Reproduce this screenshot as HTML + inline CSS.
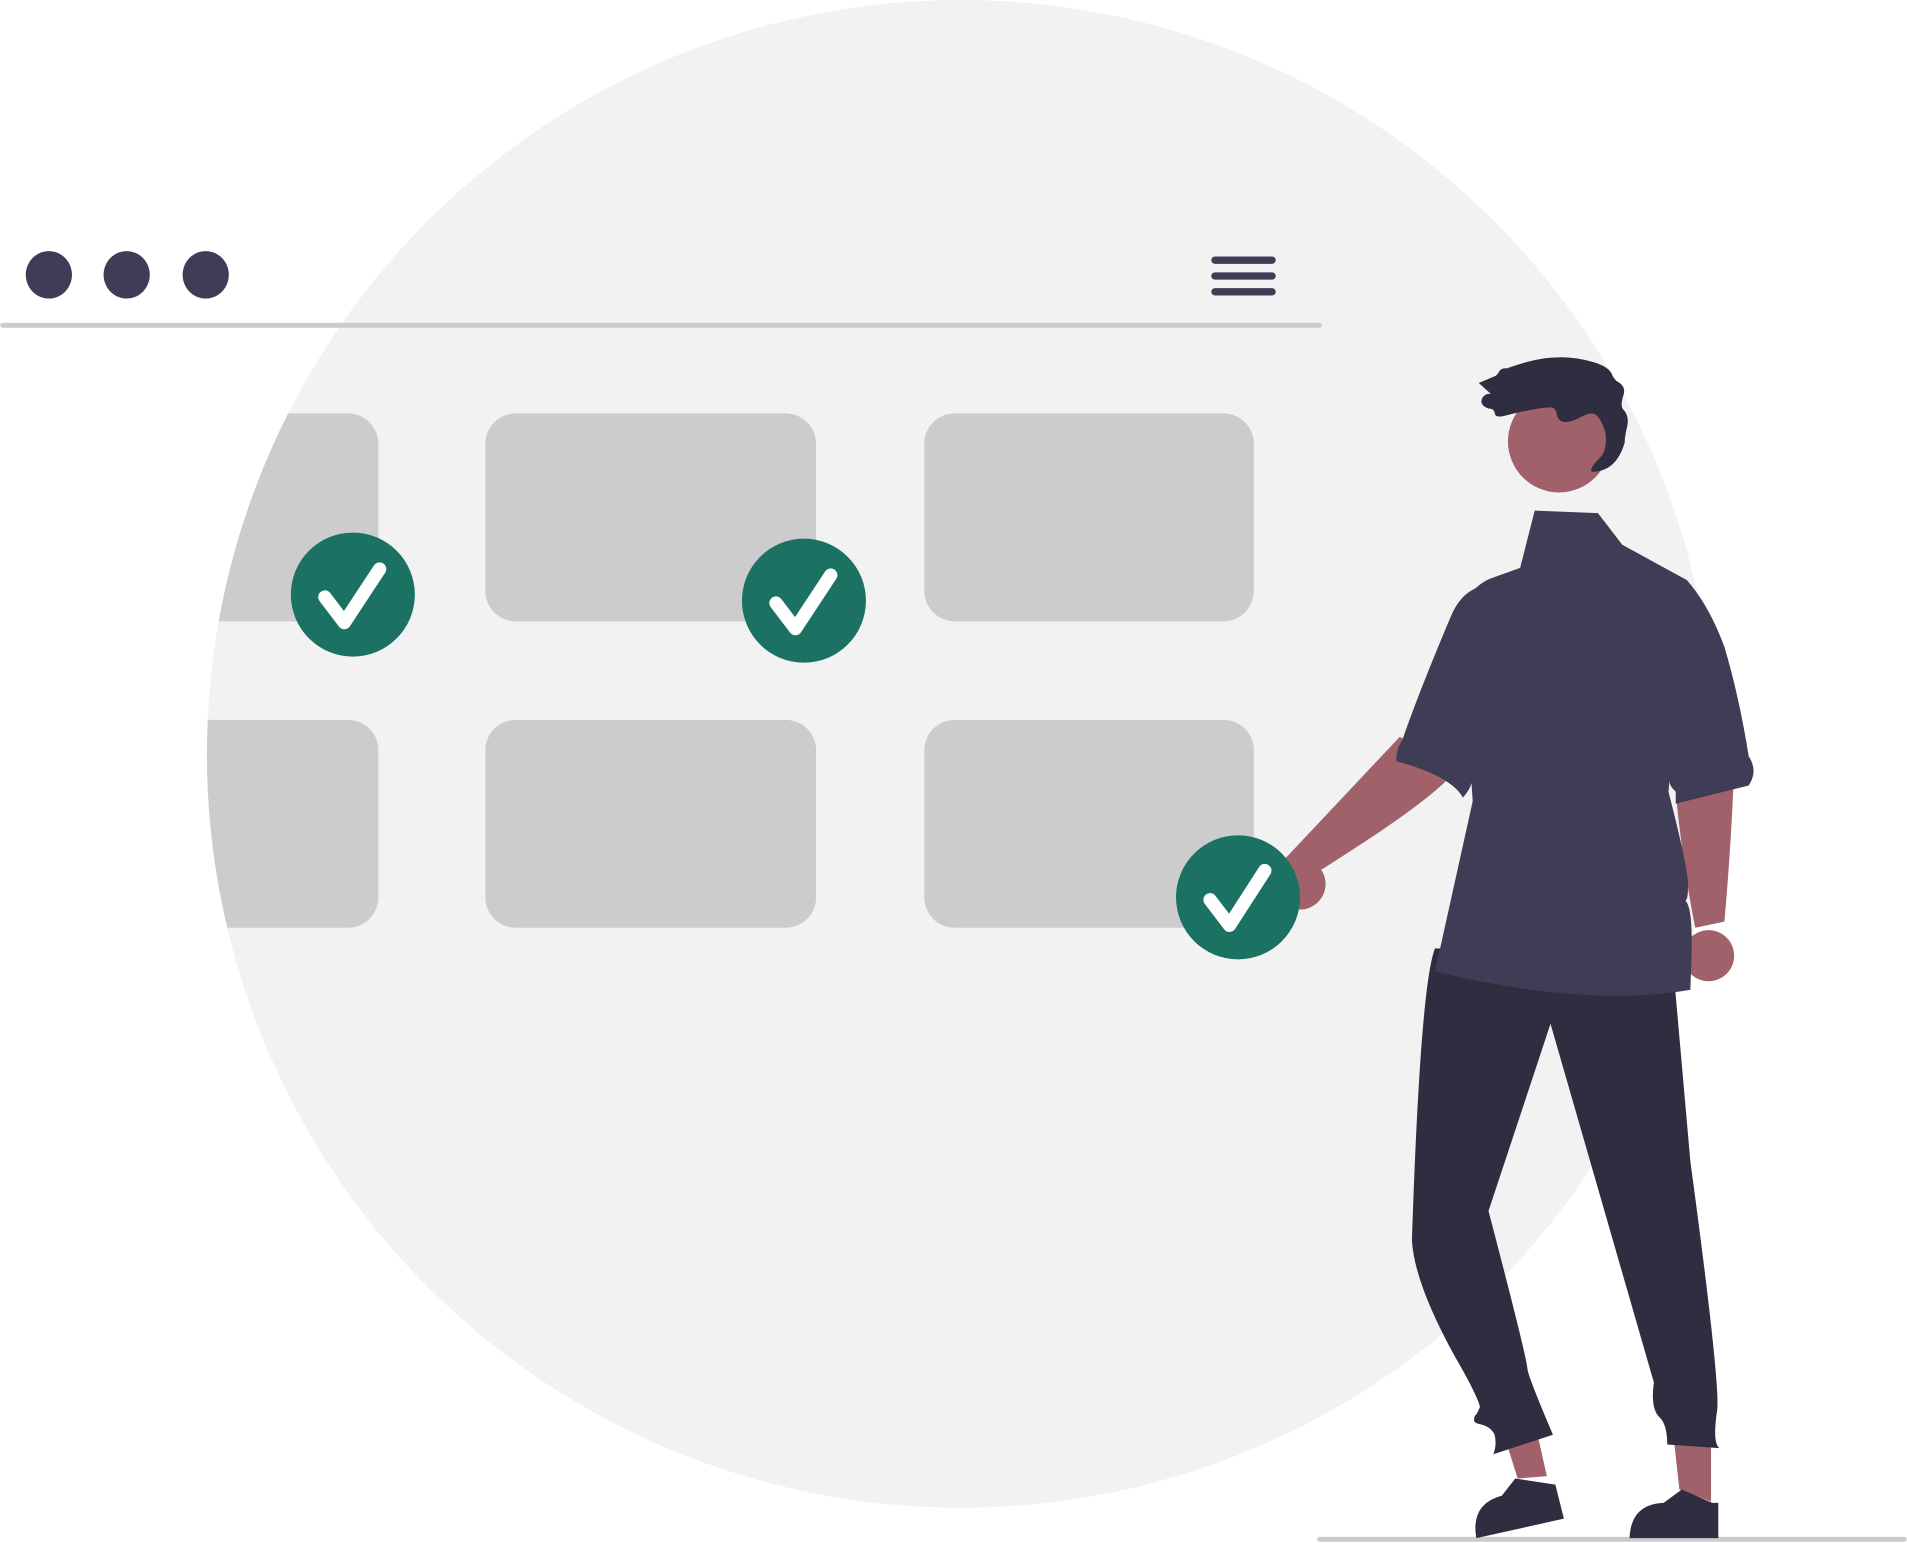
<!DOCTYPE html>
<html><head><style>html,body{margin:0;padding:0;background:#fff}svg{display:block}</style></head>
<body>
<svg width="1907" height="1543" viewBox="0 0 1568 1269" xmlns="http://www.w3.org/2000/svg">
<defs><clipPath id="c"><circle cx="790" cy="620" r="620"/></clipPath></defs>
<circle cx="790" cy="620" r="620" fill="#f2f2f2"/>
<g clip-path="url(#c)" fill="#cccccc">
<rect x="40" y="340" width="271" height="171" rx="25"/>
<rect x="40" y="592" width="271" height="171" rx="25"/>
</g>
<g fill="#cccccc">
<rect x="399" y="340" width="272" height="171" rx="25"/>
<rect x="760" y="340" width="271" height="171" rx="25"/>
<rect x="399" y="592" width="272" height="171" rx="25"/>
<rect x="760" y="592" width="271" height="171" rx="25"/>
</g>
<rect x="0" y="265.5" width="1087" height="4" rx="2" fill="#cccccc"/>
<rect x="1083" y="1264" width="485" height="4" rx="2" fill="#cccccc"/>
<g fill="#3f3d56">
<ellipse cx="40" cy="226" rx="19" ry="19.5"/>
<ellipse cx="104" cy="226" rx="19" ry="19.5"/>
<ellipse cx="169" cy="226" rx="19" ry="19.5"/>
<rect x="996" y="211" width="53" height="6" rx="3"/>
<rect x="996" y="224" width="53" height="6" rx="3"/>
<rect x="996" y="237" width="53" height="6" rx="3"/>
</g>
<g>
<path d="M1236 1178 l12 38 l24 -2 l-9 -40z" fill="#a0616a"/>
<path d="M1376 1180 l5 45 l26 10 l0 -55z" fill="#a0616a"/>
<path d="M1246 1216 l33 5 l7 28 l-72 16 q-5 -28 21 -35z" fill="#2f2e41"/>
<path d="M1383 1225 l25 11 l5 0 l0 29 l-73 0 q1 -28 28 -29z" fill="#2f2e41"/>
<path d="M1180,780 Q1168,810 1161,1020 Q1163,1055 1196,1115 Q1214,1146 1217,1157 Q1214,1164 1213,1164 Q1210,1170 1216,1171 Q1226,1173 1229,1180 Q1231,1188 1228,1196 L1277,1180 Q1257,1133 1256,1126 Q1256,1118 1224,996 L1275,842 L1360,1137 Q1357,1159 1365,1166 Q1371,1172 1371,1188 L1414,1191 Q1408,1187 1412,1160 Q1415,1140 1390,955 L1375,785 Z" fill="#2f2e41"/>
<path d="M1055 708 l96 -102 l48 24 q-10 20 -98 76 l-14 9z" fill="#a0616a"/>
<circle cx="1069" cy="727" r="21" fill="#a0616a"/>
<path d="M1376 630 l50 0 q-2 60 -8 128 l-24 5 q-12 -60 -18 -133z" fill="#a0616a"/>
<circle cx="1405" cy="786" r="21" fill="#a0616a"/>
<path d="M1262 420 l52 2 l20 26 l53 29 q18 20 31 55 q12 40 20 90 q8 12 0 24 l-60 15 l0 -10 q-6 -5 -5 -10 l-1 10 q18 70 16 80 q0 8 -2 10 q6 5 5 45 l-1 28 q-85 15 -210 -15 l31 -140 l-1 -15 q-1 5 -7 12 q-10 -18 -55 -30 q0 -10 5 -17 q13 -38 40 -102 q7 -17 20 -23 q8 -7 15 -9 l22 -8z" fill="#3f3d56"/>
<circle cx="1282" cy="363" r="42" fill="#a0616a"/>
<path d="M1232 307 q2 -5 7 -4 q25 -9 40 -9 q15 -1 32 4 q13 4 15 11 q2 4 6 6 q5 4 3 10 q-3 9 0 12 q5 5 3 14 q-2 8 -2 13 q-7 24 -27 24 q-3 -2 8 -13 q5 -7 3 -20 q-5 -15 -11 -15 q-4 0 -11 4 q-16 8 -18 -4 q-1 -5 -5 -5 q-10 0 -38 7 q-8 2 -8 -3 q-1 -3 -5 -3 q-8 -3 -5 -9 q3 -4 7 -3 l-10 -9 l14 -6z" fill="#2f2e41"/>
</g>
<g>
<circle cx="290" cy="489" r="51" fill="#1b7262"/>
<polyline points="267,491 283,512 312,468" fill="none" stroke="#fff" stroke-width="11" stroke-linecap="round" stroke-linejoin="round"/>
<circle cx="661" cy="494" r="51" fill="#1b7262"/>
<polyline points="638,496 654,517 683,473" fill="none" stroke="#fff" stroke-width="11" stroke-linecap="round" stroke-linejoin="round"/>
<circle cx="1018" cy="738" r="51" fill="#1b7262"/>
<polyline points="995,740 1011,761 1040,716" fill="none" stroke="#fff" stroke-width="11" stroke-linecap="round" stroke-linejoin="round"/>
</g>
</svg>
</body></html>
